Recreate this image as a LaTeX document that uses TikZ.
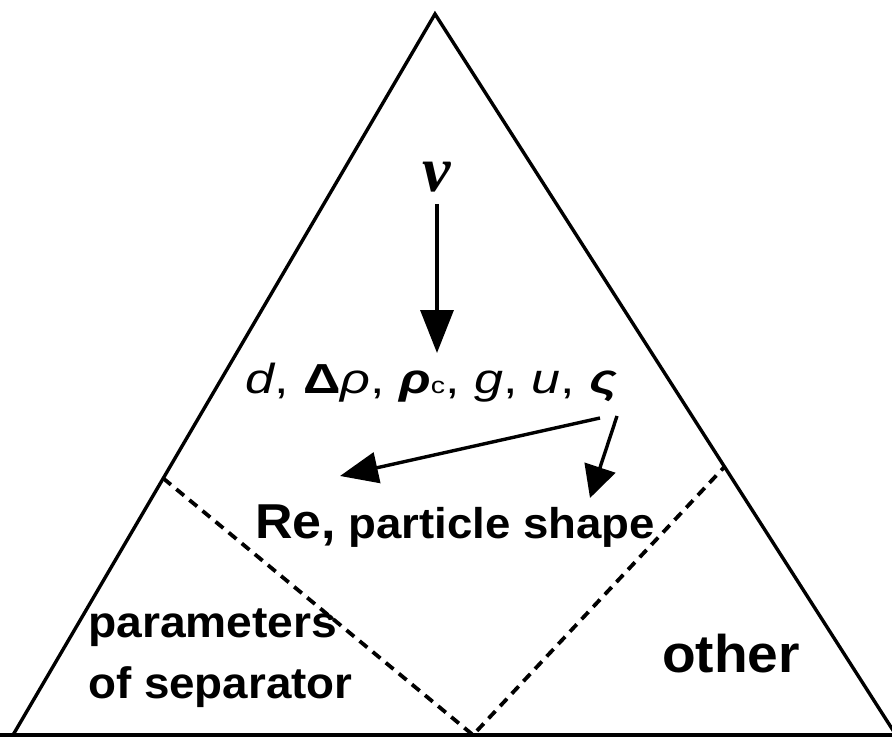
\documentclass[tikz,border=0pt]{standalone}
\usepackage{fontspec}
\setmainfont{Liberation Sans}
\newfontfamily\greekserif{Liberation Serif}
\usetikzlibrary{arrows.meta,calc}
\begin{document}
\begin{tikzpicture}[x=1pt,y=-1pt,
  side/.style={line width=3.4pt,line cap=round},
  sepline/.style={line width=3.8pt,dash pattern=on 10pt off 7pt},
  arrbig/.style={line width=3.4pt,-{Triangle[length=43pt,width=33pt]}},
  arrmid/.style={line width=3.4pt,-{Triangle[length=38pt,width=31pt]}},
  arrsmall/.style={line width=3.4pt,-{Triangle[length=32pt,width=32pt]}},
  txt/.style={inner sep=0pt,anchor=base west}]
\useasboundingbox (0,0) rectangle (892,738);
\fill[white] (0,0) rectangle (892,738);
% triangle
\coordinate (A) at (435,14);
\coordinate (L) at (13,735);
\coordinate (R) at (896,735);
\coordinate (B0) at (0,735);
\coordinate (B1) at (892,735);
\draw[side] (L) -- (A) -- (R);
\draw[line width=3.4pt] (B0) -- (B1);
% dashed separators
\coordinate (dl) at ($(L)!0.356!(A)$);
\coordinate (db) at (473,735);
\coordinate (dr) at ($(R)!0.372!(A)$);
\draw[sepline] (dl) -- (db) -- (dr);
% texts
\node[inner sep=0pt,anchor=base] (nu) at (437,192)
  {\fontsize{64}{64}\selectfont\greekserif\bfseries\itshape ν};
\node[txt] (vars) at (245,393)
  {\scalebox{1.24}[1]{\fontsize{42}{44}\selectfont \textit{d}, \textbf{Δ}\textit{ρ}, \textbf{\textit{ρ}}{\fontsize{23}{23}\selectfont c}, \textit{g}, \textit{u}, \textbf{\textit{ς}}}};
\node[txt] (re) at (255,538)
  {\scalebox{1.06}[1]{\bfseries\fontsize{49}{49}\selectfont Re,\fontsize{43}{43}\selectfont\ particle shape}};
\node[txt] (par) at (88,637) {\scalebox{1.05}[1]{\bfseries\fontsize{44}{44}\selectfont parameters}};
\node[txt] (sep) at (88,698) {\scalebox{1.04}[1]{\bfseries\fontsize{44}{44}\selectfont of separator}};
\node[txt] (oth) at (662,672) {\scalebox{1.04}[1]{\bfseries\fontsize{53}{53}\selectfont other}};
% arrows
\coordinate (a1s) at (437,204);
\coordinate (a1e) at (437,353);
\draw[arrbig] (a1s) -- (a1e);
\coordinate (a2s) at (600,418);
\coordinate (a2e) at (340,476);
\draw[arrmid] (a2s) -- (a2e);
\coordinate (a3s) at (617,416);
\coordinate (a3e) at (590,498);
\draw[arrsmall] (a3s) -- (a3e);
\end{tikzpicture}
\end{document}
